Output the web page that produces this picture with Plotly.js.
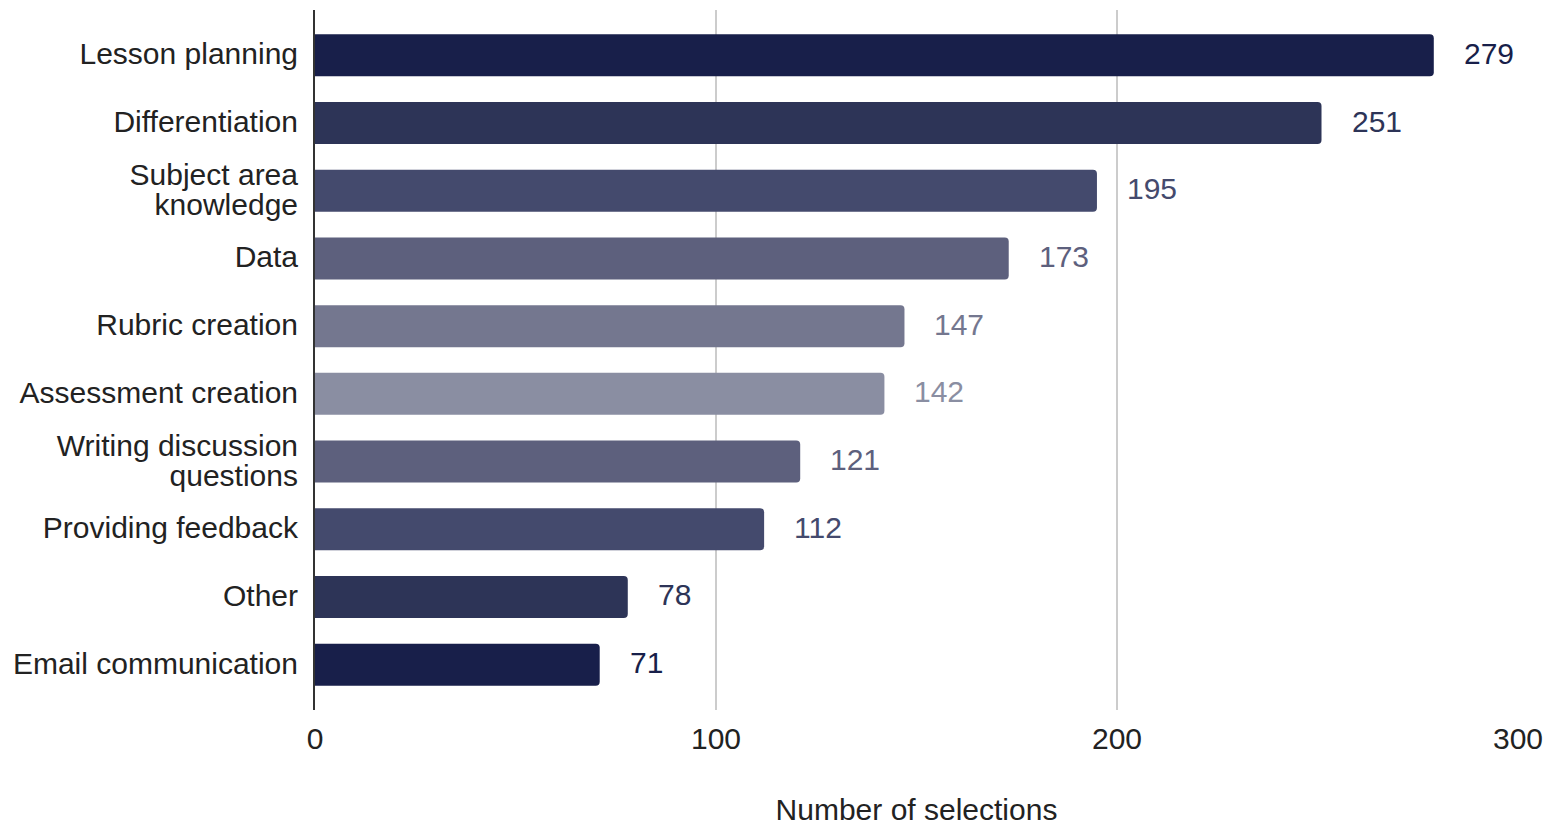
<!DOCTYPE html>
<html>
<head>
<meta charset="utf-8">
<script src="https://cdn.plot.ly/plotly-3.0.1.min.js"></script>
<style>html,body{margin:0;padding:0;background:#fff;}#chart{width:1546px;height:826px;}</style>
</head>
<body>
<div id="chart"></div>
<script>
const categories = ["Lesson planning", "Differentiation", "Subject area<br>knowledge", "Data", "Rubric creation", "Assessment creation", "Writing discussion<br>questions", "Providing feedback", "Other", "Email communication"];
const values = [279, 251, 195, 173, 147, 142, 121, 112, 78, 71];
const barColors = ["#181f4a", "#2d3457", "#444a6d", "#5d607d", "#74778f", "#8a8ea2", "#5d607d", "#444a6d", "#2d3457", "#181f4a"];
const xTicks = [0, 100, 200, 300];
const xTitle = "Number of selections";

const font = "Liberation Sans, Arial, sans-serif";
const fs = 30;

const trace = {
  type: "bar",
  orientation: "h",
  y: categories,
  x: values,
  marker: {color: barColors, cornerradius: 4},
  hoverinfo: "x+y"
};

const annotations = values.map((v, i) => ({
  x: v, y: categories[i], xref: "x", yref: "y",
  text: String(v), showarrow: false, xanchor: "left", xshift: 28, yshift: 2,
  font: {family: font, size: fs, color: barColors[i]}
}));

const layout = {
  width: 1546, height: 826,
  margin: {l: 315, r: 28, t: 10, b: 116},
  paper_bgcolor: "#fff", plot_bgcolor: "#fff",
  bargap: 0.38,
  showlegend: false,
  font: {family: font, size: fs, color: "#222"},
  xaxis: {
    range: [0, 300], tickvals: xTicks, ticktext: xTicks.map(String),
    showgrid: true, gridcolor: "#cccccc", gridwidth: 2,
    zeroline: false, showline: false,
    tickfont: {family: font, size: fs, color: "#222"},
    ticklabelstandoff: 8,
    title: {text: xTitle, font: {family: font, size: fs, color: "#222"}, standoff: 50},
    fixedrange: true
  },
  yaxis: {
    type: "category",
    range: [9.67, -0.67],
    showline: true, linecolor: "#333", linewidth: 2,
    showgrid: false, zeroline: false,
    tickfont: {family: font, size: fs, color: "#222"},
    ticklabelstandoff: 9,
    fixedrange: true
  },
  annotations: annotations
};

Plotly.newPlot("chart", [trace], layout, {displayModeBar: false, staticPlot: true}).then(function (gd) {
  // tighten line spacing of two-line category labels
  gd.querySelectorAll(".ytick text").forEach(function (t) {
    const lines = t.querySelectorAll("tspan.line");
    if (lines.length === 2) {
      const absolute = lines[1].hasAttribute("y");
      lines[0].setAttribute("dy", "0.1em");
      lines[1].setAttribute("dy", absolute ? "1.1em" : "1.0em");
    } else {
      t.setAttribute("dy", (parseFloat(t.getAttribute("dy") || "0") - 0.05) + "em");
    }
  });
});
</script>
</body>
</html>
